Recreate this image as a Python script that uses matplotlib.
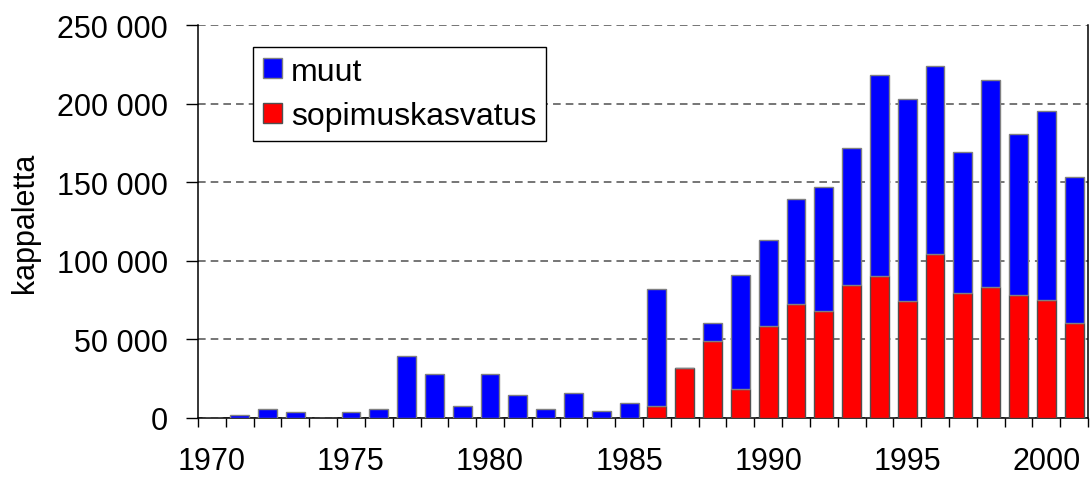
import numpy as np
import matplotlib
matplotlib.use("Agg")
import matplotlib.pyplot as plt
from matplotlib import ticker

plt.rcParams['font.family'] = ['Liberation Sans', 'DejaVu Sans']

vuodet = list(range(1970, 2002))
# sopimuskasvatus (punainen)
sopimus = [0, 0, 0, 0, 0, 0, 0, 0, 0, 0, 0, 0, 0, 0, 0, 0,
           7800, 31900, 48900, 18400, 58400, 72300, 68100, 84800,
           90500, 74400, 104300, 79300, 83300, 78000, 74900, 60300]
# kokonaismaara
yhteensa = [0, 1700, 5700, 3800, 0, 3500, 5700, 39400, 27700, 7600, 28000, 14400,
            5700, 15600, 4200, 9300, 81900, 31900, 60500, 91100, 113300, 139200,
            147200, 172000, 218300, 203000, 224000, 169200, 215100, 180800,
            195200, 153300]
muut = [t - s for t, s in zip(yhteensa, sopimus)]
xtick_vuodet = [1970, 1975, 1980, 1985, 1990, 1995, 2000]

fig = plt.figure(figsize=(10.91, 4.81), dpi=100)
ax = fig.add_axes([198/1091, 1 - 419/481, (1088-198)/1091, (419-26)/481])

x = np.arange(len(vuodet))
ax.bar(x, sopimus, width=0.68, color='#ff0000', edgecolor='#505050', linewidth=1, zorder=3,
       label='sopimuskasvatus')
ax.bar(x, muut, width=0.68, bottom=sopimus, color='#0000ff', edgecolor='#808080', linewidth=1,
       zorder=3, label='muut')

ax.set_xlim(-0.5, len(vuodet) - 0.5)
ax.set_ylim(0, 250000)
ax.yaxis.set_major_locator(ticker.MultipleLocator(50000))
ax.yaxis.set_major_formatter(ticker.FuncFormatter(lambda v, p: '{:,.0f}'.format(v).replace(',', ' ')))
ax.grid(axis='y', linestyle=(0, (5, 3.3)), color='#505050', linewidth=1.1, zorder=0)

# tick marks between categories, labels every 5 years
ax.set_xticks(np.arange(-0.5, len(vuodet), 1))
ax.set_xticklabels([])
ax.set_xticks([vuodet.index(v) for v in xtick_vuodet], minor=True)
ax.set_xticklabels([str(v) for v in xtick_vuodet], minor=True)
ax.tick_params(axis='x', which='major', length=6.5, width=1, direction='out')
ax.tick_params(axis='x', which='minor', length=0, labelsize=22, pad=20)
ax.tick_params(axis='y', length=8.5, width=1, labelsize=22, pad=13)

ax.spines['top'].set_visible(False)
for s in ['left', 'bottom', 'right']:
    ax.spines[s].set_linewidth(1.1)

ax.set_ylabel('kappaletta', fontsize=22)
ax.yaxis.set_label_coords(-0.178, 0.5)

h, l = ax.get_legend_handles_labels()
leg = ax.legend(h[::-1], l[::-1], loc='upper left', bbox_to_anchor=(0.0618, 0.944),
                borderaxespad=0, fontsize=23,
                frameon=True, fancybox=False, edgecolor='black', framealpha=1,
                handlelength=0.6, handleheight=0.6, handletextpad=0.3, borderpad=0.3,
                labelspacing=0.45)
leg.get_frame().set_linewidth(1)
leg.set_zorder(5)

fig.savefig('out.png', dpi=100)
